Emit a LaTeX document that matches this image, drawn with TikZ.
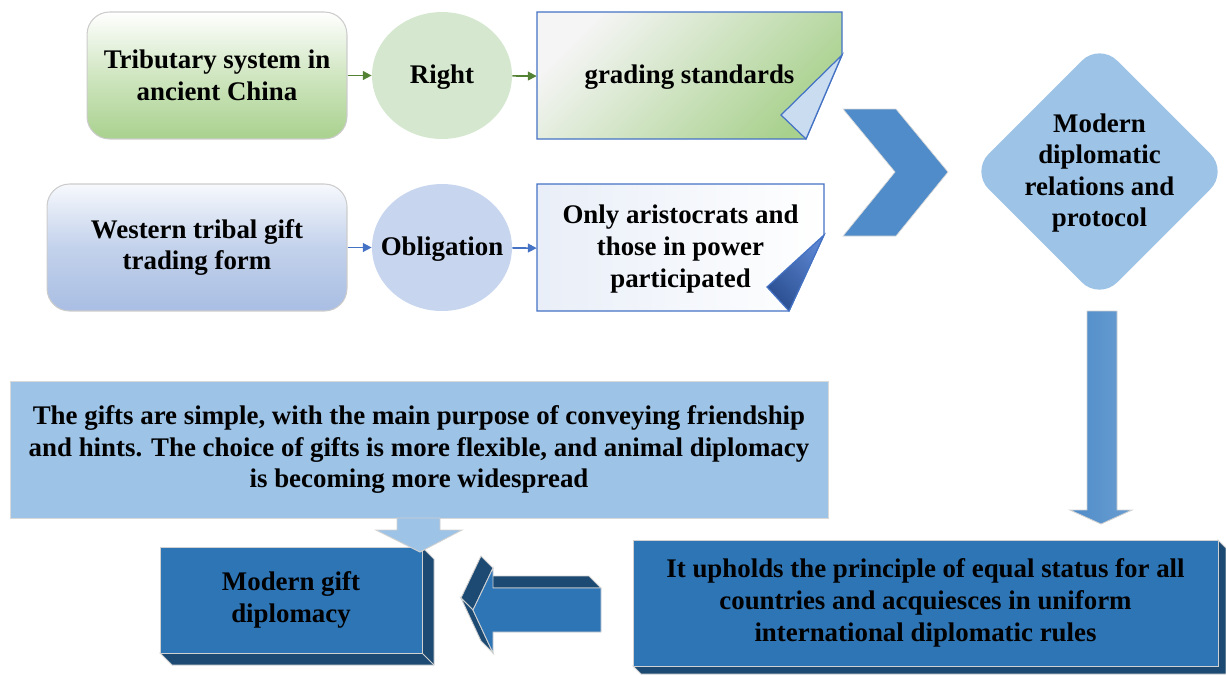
\documentclass[tikz,border=0pt]{standalone}
\usepackage{fontspec}
\setmainfont{Liberation Serif}
\usetikzlibrary{arrows.meta, shapes.geometric}
\definecolor{gfill}{HTML}{A9D18E}
\definecolor{bfill}{HTML}{A9BEE3}
\definecolor{gellip}{HTML}{D5E8CF}
\definecolor{bellip}{HTML}{C7D5EE}
\definecolor{ofline}{HTML}{4472C4}
\definecolor{garr}{HTML}{548235}
\definecolor{lblue}{HTML}{9DC3E6}
\definecolor{mblue}{HTML}{4F8CC9}
\definecolor{dblue}{HTML}{2E75B6}
\definecolor{ddblue}{HTML}{1D4A73}
\definecolor{flapb}{HTML}{C9DCF0}
\definecolor{flapd}{HTML}{2B4F91}
\definecolor{flapl}{HTML}{5A84D0}

\begin{document}
\begin{tikzpicture}[x=0.02cm, y=-0.02cm,
  lbl/.style={font=\fontsize{15.3}{18}\selectfont\bfseries, align=center, inner sep=0pt},
  sourcebox/.style={lbl, rectangle, rounded corners=0.45cm, draw=black!20, line width=0.6pt, minimum height=2.54cm},
  oval/.style={ellipse, minimum width=2.8cm, minimum height=2.54cm, inner sep=0pt},
  foldline/.style={draw=ofline, line width=0.7pt},
  garrow/.style={draw=garr, line width=0.9pt, -{Triangle[length=5pt,width=5pt]}},
  barrow/.style={garrow, draw=ofline},
  edge3d/.style={draw=black!18, line width=0.5pt},
  front3d/.style={fill=dblue, edge3d},
  back3d/.style={fill=ddblue, edge3d}]
\useasboundingbox (0,0) rectangle (1226,674);

% first row
\node[sourcebox, minimum width=5.2cm, top color=white, bottom color=gfill, middle color=gfill!55] (trib) at (217,75.5) {Tributary system in\\ancient China};
\node[oval, fill=gellip] (right) at (442,75.5) {};
\node[lbl] (right-t) at (442,77) {Right};
\path[foldline, top color=black!4, bottom color=gfill, shading angle=45] (537,12) -- (842,12) -- (842,55) -- (806,139) -- (537,139) -- cycle;
\draw[foldline, fill=flapb] (842,55) -- (781,115) -- (806,139) -- cycle;
\node[lbl, minimum width=6.1cm, minimum height=2.54cm] (grad) at (689.5,77) {grading standards};
\draw[garrow] (trib) -- (right);
\draw[garrow] (right) -- (grad);

% second row
\node[sourcebox, minimum width=6cm, top color=white!90!bfill, bottom color=bfill, middle color=bfill!70] (west) at (197,247.5) {Western tribal gift\\trading form};
\node[oval, fill=bellip] (oblig) at (442,247.5) {};
\node[lbl] (oblig-t) at (442,249) {Obligation};
\path[foldline, left color=ofline!12, right color=white] (537,184) -- (824,184) -- (824,235) -- (789,311) -- (537,311) -- cycle;
\draw[foldline, top color=flapl, bottom color=flapd, shading angle=-45] (824,235) -- (767,287) -- (789,311) -- cycle;
\node[lbl, minimum width=5.74cm, minimum height=2.54cm] (aris) at (680.5,249) {Only aristocrats and\\those in power\\participated};
\draw[barrow] (west) -- (oblig);
\draw[barrow] (oblig) -- (aris);

% chevron and diamond
\draw[draw=black!15, fill=mblue] (843,109) -- (896,109) -- (948,172) -- (896,236) -- (843,236) -- (895,172) -- cycle;
\fill[lblue, rounded corners=0.5cm] (1099.5,43) -- (1228,171.5) -- (1099.5,300) -- (971,171.5) -- cycle;
\node[lbl] (modern) at (1099.5,173) {Modern\\diplomatic\\relations and\\protocol};

% long arrow down
\draw[edge3d, left color=mblue, right color=mblue!85!white] (1087,311) -- (1117,311) -- (1117,510) -- (1132,510) -- (1101,524) -- (1070,510) -- (1087,510) -- cycle;

% lower part
\node[lbl, fill=lblue, draw=black!15, minimum width=16.36cm, minimum height=2.74cm] (gifts) at (419,449.5) {The gifts are simple, with the main purpose of conveying friendship\\and hints. The choice of gifts is more flexible, and animal diplomacy\\is becoming more widespread};

\draw[back3d] (422,547) -- (434,559) -- (434,665) -- (172,665) -- (160,653) -- (422,653) -- cycle;
\draw[edge3d] (422,653) -- (434,665);
\node[lbl, front3d, minimum width=5.24cm, minimum height=2.12cm] (mgd) at (291,600) {Modern gift\\diplomacy};
\draw[edge3d, fill=lblue] (397,518) -- (440,518) -- (440,530) -- (462,530) -- (420,552) -- (376,530) -- (397,530) -- cycle;

\draw[back3d] (1218,540) -- (1226,548) -- (1226,674) -- (641,674) -- (633,666) -- (1218,666) -- cycle;
\node[lbl, front3d, minimum width=11.7cm, minimum height=2.52cm] (uphold) at (925.5,603) {It upholds the principle of equal status for all\\countries and acquiesces in uniform\\international diplomatic rules};

% 3d arrow to the left
\draw[back3d] (493,588) -- (601,588) -- (589,576) -- (481,576) -- cycle;
\draw[back3d] (473,610) -- (493,568) -- (481,556) -- (461,598) -- cycle;
\draw[back3d] (493,653) -- (473,610) -- (461,598) -- (481,641) -- cycle;
\draw[front3d] (473,610) -- (493,568) -- (493,588) -- (601,588) -- (601,632) -- (493,632) -- (493,653) -- cycle;
\end{tikzpicture}
\end{document}
